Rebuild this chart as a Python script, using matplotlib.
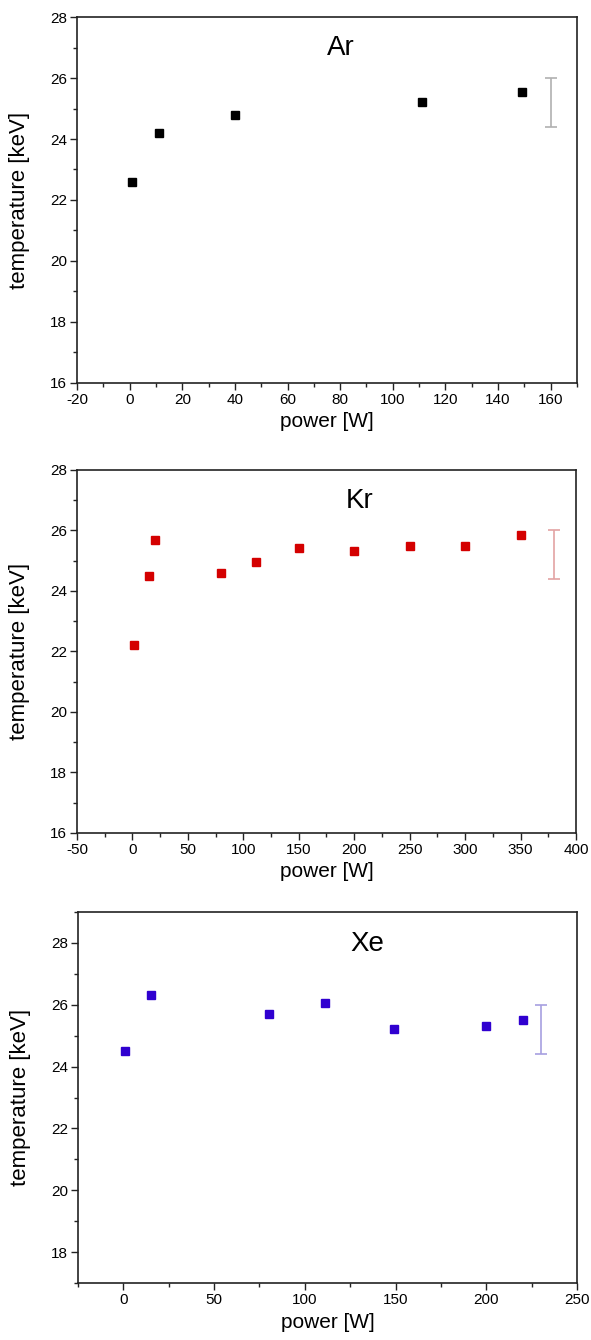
import matplotlib
matplotlib.use("Agg")
import matplotlib.pyplot as plt
from matplotlib.ticker import MultipleLocator

plt.rcParams['font.family'] = ['Liberation Sans', 'DejaVu Sans']
plt.rcParams['axes.unicode_minus'] = False

# argon
ar_power = [1, 11, 40, 111, 149]
ar_temp = [22.6, 24.2, 24.8, 25.2, 25.55]

# krypton
kr_power = [1, 15, 20, 80, 111, 150, 200, 250, 300, 350]
kr_temp = [22.2, 24.5, 25.7, 24.6, 24.95, 25.43, 25.32, 25.5, 25.5, 25.85]

# xenon
xe_power = [1, 15, 80, 111, 149, 200, 220]
xe_temp = [24.5, 26.3, 25.7, 26.05, 25.22, 25.32, 25.52]

# typical uncertainty bar drawn at the right of each panel
err_x = [160, 380, 230]
err_center = 25.2
err_half = 0.8

panels = [
    # label, x, y, marker colour, errbar colour, xlim, ylim, major x, minor x, title x
    ("Ar", ar_power, ar_temp, "black", "#b0b0b0", (-20, 170), (16, 28), 20, 10, 0.528),
    ("Kr", kr_power, kr_temp, "#d40000", "#e3a3a3", (-50, 400), (16, 28), 50, 25, 0.566),
    ("Xe", xe_power, xe_temp, "#3000d0", "#a7a0e0", (-25, 250), (17, 29), 50, 25, 0.58),
]

# axes boxes in figure fractions (left, bottom, width, height)
boxes = [
    [0.1303, 0.7142, 0.846, 0.2731],
    [0.1303, 0.3784, 0.8443, 0.2709],
    [0.1320, 0.0425, 0.8443, 0.2769],
]

fig = plt.figure(figsize=(5.91, 13.4), dpi=100)

for i, (name, x, y, col, ecol, xl, yl, xmaj, xmin, tx) in enumerate(panels):
    ax = fig.add_axes(boxes[i])
    ax.plot(x, y, linestyle='none', marker='s', ms=6, color=col, mec=col)
    ax.errorbar([err_x[i]], [err_center], yerr=[err_half], fmt='none',
                ecolor=ecol, elinewidth=1.2, capsize=4, capthick=1.2)

    ax.set_xlim(*xl)
    ax.set_ylim(*yl)
    ax.xaxis.set_major_locator(MultipleLocator(xmaj))
    ax.xaxis.set_minor_locator(MultipleLocator(xmin))
    ax.yaxis.set_major_locator(MultipleLocator(2))
    ax.yaxis.set_minor_locator(MultipleLocator(1))
    if name == "Xe":
        ax.set_yticks([18, 20, 22, 24, 26, 28])

    ax.tick_params(which='both', direction='out', top=False, right=False,
                   width=1, color='#222222', labelsize=11, pad=2)
    ax.tick_params(which='major', length=5)
    ax.tick_params(which='minor', length=3)
    for s in ax.spines.values():
        s.set_linewidth(1.2)
        s.set_color('#222222')

    ax.set_xlabel("power [W]", fontsize=15)
    ax.set_ylabel("temperature [keV]", fontsize=16)
    ax.yaxis.set_label_coords(-0.095, 0.5)
    ax.xaxis.set_label_coords(0.5, -0.08)

    ax.text(tx, 0.915, name, transform=ax.transAxes, fontsize=20,
            ha='center', va='center')

fig.savefig("out.png", dpi=100)
